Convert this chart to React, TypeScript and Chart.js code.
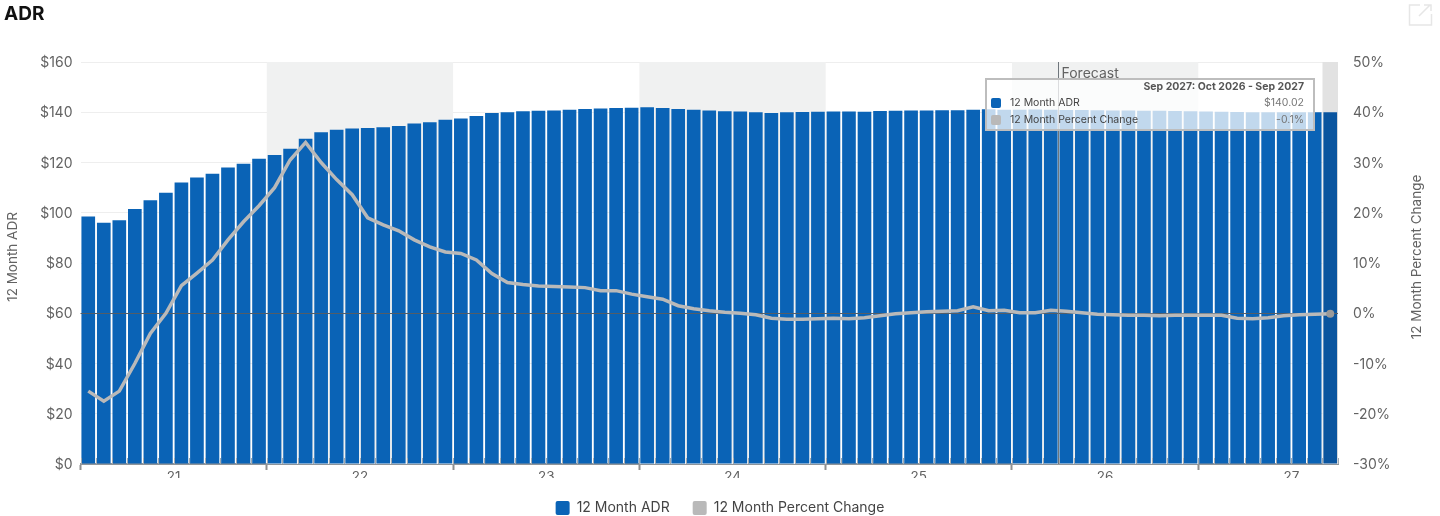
import React, { useEffect, useRef } from "react";
import { Chart, registerables } from "chart.js";

Chart.register(...registerables);

const title = "ADR";
const adrLabel = "12 Month ADR";
const pctLabel = "12 Month Percent Change";
const forecastLabel = "Forecast";
const tooltipTitle = "Sep 2027: Oct 2026 - Sep 2027";
const tooltipAdr = "$140.02";
const tooltipPct = "-0.1%";
const years = ["21", "22", "23", "24", "25", "26", "27"];
const monthsPerYear = 12;
const forecastMonth = 63;
const hoverMonth = 80;
const adrValues = [
  98.5, 96, 97, 101.5, 105, 108, 112, 114, 115.5, 118, 119.5, 121.5,
  123, 125.5, 129.5, 132, 133, 133.5, 133.7, 134, 134.5, 135.5, 136, 137,
  137.5, 138.5, 139.7, 140, 140.4, 140.6, 140.7, 141, 141.3, 141.5, 141.7, 141.8,
  142, 141.7, 141.3, 141, 140.7, 140.4, 140.3, 140, 139.7, 140, 140.1, 140.2,
  140.3, 140.3, 140.2, 140.5, 140.6, 140.7, 140.7, 140.8, 140.8, 141, 141.2, 141,
  141, 141.1, 141, 140.9, 140.9, 140.8, 140.7, 140.7, 140.6, 140.6, 140.5, 140.4,
  140.3, 140.2, 140.1, 140, 140, 140, 140, 140, 140.02,
];
const pctValues = [
  -15.5, -17.5, -15.5, -10, -4, 0, 5.5, 8, 10.6, 14.6, 18.2, 21.4,
  25, 30.5, 34, 30, 26.6, 23.6, 19, 17.6, 16.4, 14.6, 13.2, 12.2,
  11.9, 10.6, 7.9, 6.1, 5.7, 5.4, 5.3, 5.2, 5.1, 4.5, 4.5, 3.8,
  3.3, 2.8, 1.5, 0.9, 0.5, 0.2, 0, -0.3, -1, -1.2, -1.2, -1.1,
  -1, -1.1, -0.9, -0.5, -0.1, 0.1, 0.3, 0.4, 0.5, 1.3, 0.5, 0.6,
  0.1, 0.1, 0.6, 0.4, 0.1, -0.2, -0.3, -0.4, -0.4, -0.5, -0.4, -0.4,
  -0.4, -0.4, -1, -1.1, -0.9, -0.5, -0.3, -0.2, -0.1,
];

const FONT = "Inter";
const TEXT = "#626262";
const BLUE = "#0a63b6";

const overlayPlugin = {
  id: "overlay",
  beforeDatasetsDraw(chart: any) {
    const { ctx, chartArea: a, scales } = chart;
    const x = scales.x;
    ctx.save();
    ctx.fillStyle = "#f0f1f1";
    years.forEach((_, i) => {
      if (i % 2 === 1) {
        const l = x.getPixelForValue(i * monthsPerYear);
        const r = x.getPixelForValue(Math.min((i + 1) * monthsPerYear, adrValues.length));
        ctx.fillRect(l, a.top, r - l, a.bottom - a.top);
      }
    });
    ctx.fillStyle = "#e2e2e2";
    const hl = x.getPixelForValue(hoverMonth);
    ctx.fillRect(hl, a.top, x.getPixelForValue(hoverMonth + 1) - hl, a.bottom - a.top);
    ctx.restore();
  },
  afterDatasetDraw(chart: any, args: any) {
    // zero line of the percent axis: above the bars, below the line
    if (chart.data.datasets[args.index].type !== "bar") return;
    const { ctx, chartArea: a, scales } = chart;
    const z = Math.floor(scales.y2.getPixelForValue(0)) + 0.5;
    ctx.save();
    ctx.strokeStyle = "#535d67";
    ctx.lineWidth = 1;
    ctx.beginPath();
    ctx.moveTo(a.left, z);
    ctx.lineTo(a.right, z);
    ctx.stroke();
    ctx.restore();
  },
  afterDatasetsDraw(chart: any) {
    const { ctx, chartArea: a, scales } = chart;
    const x = scales.x;
    ctx.save();
    // small month ticks
    ctx.strokeStyle = "#a3a9ae";
    ctx.lineWidth = 1;
    for (let i = 0; i <= adrValues.length; i++) {
      const px = Math.round(x.getPixelForValue(i)) + 0.5;
      ctx.beginPath();
      ctx.moveTo(px, a.bottom - 6);
      ctx.lineTo(px, a.bottom);
      ctx.stroke();
    }
    // forecast divider
    const f = Math.floor(x.getPixelForValue(forecastMonth)) + 0.5;
    ctx.strokeStyle = "#6f767c";
    ctx.beginPath();
    ctx.moveTo(f, a.top);
    ctx.lineTo(f, a.bottom);
    ctx.stroke();
    ctx.fillStyle = TEXT;
    ctx.font = `14px ${FONT}`;
    ctx.textAlign = "left";
    ctx.textBaseline = "middle";
    ctx.fillText(forecastLabel, f + 3, a.top + 12);
    // axis titles, both reading bottom to top
    ctx.textAlign = "center";
    ctx.font = `13.5px ${FONT}`;
    const mid = (a.top + a.bottom) / 2 - 6;
    [
      { tx: 13, text: adrLabel },
      { tx: 1417, text: pctLabel },
    ].forEach(({ tx, text }) => {
      ctx.save();
      ctx.translate(tx, mid);
      ctx.rotate(-Math.PI / 2);
      ctx.fillText(text, 0, 0);
      ctx.restore();
    });
    ctx.restore();
  },
};

export default function App() {
  const ref = useRef<HTMLCanvasElement>(null);
  useEffect(() => {
    if (!ref.current) return;
    const chart = new Chart(ref.current, {
      data: {
        datasets: [
          {
            type: "line",
            label: pctLabel,
            yAxisID: "y2",
            order: 0,
            data: pctValues.map((v, i) => ({ x: i + 0.5, y: v })),
            borderColor: "#b9b9b9",
            backgroundColor: "#b9b9b9",
            borderWidth: 3.5,
            tension: 0,
            pointRadius: (c: any) => (c.dataIndex === hoverMonth ? 4 : 0),
            pointBackgroundColor: "#9a9a9a",
            pointBorderWidth: 0,
          },
          {
            type: "bar",
            label: adrLabel,
            yAxisID: "y",
            order: 1,
            data: adrValues.map((v, i) => ({ x: i + 0.5, y: v })),
            backgroundColor: (c: any) => (c.dataIndex === hoverMonth ? "#0a559f" : BLUE),
            borderColor: "#a9c7e6",
            borderWidth: 0,
            borderRadius: 0,
            barPercentage: 0.88,
            categoryPercentage: 1,
          },
        ] as any,
      },
      options: {
        responsive: false,
        animation: false,
        events: [],
        layout: { padding: { top: 62, left: 0, right: 0, bottom: -9 } },
        plugins: {
          tooltip: { enabled: false },
          title: { display: false },
          legend: {
            position: "bottom",
            labels: {
              boxWidth: 14,
              boxHeight: 14,
              padding: 23,
              color: "#444",
              useBorderRadius: true,
              borderRadius: 2,
              font: { family: FONT, size: 14 },
              generateLabels: () =>
                [
                  { text: adrLabel, fillStyle: BLUE, datasetIndex: 1 },
                  { text: pctLabel, fillStyle: "#b9b9b9", datasetIndex: 0 },
                ].map((l) => ({ ...l, strokeStyle: l.fillStyle, lineWidth: 0, borderRadius: 2, fontColor: "#444" })),
            },
          },
        },
        scales: {
          x: {
            type: "linear",
            offset: false,
            min: 0,
            max: adrValues.length,
            afterBuildTicks: (s: any) => {
              s.ticks = Array.from({ length: adrValues.length + 1 }, (_, i) => ({ value: i }));
            },
            afterFit: (s: any) => {
              s.height = 14;
            },
            grid: {
              drawOnChartArea: false,
              drawTicks: true,
              offset: false,
              tickLength: 6,
              tickWidth: 2,
              tickColor: (c: any) =>
                c.tick && c.tick.value % monthsPerYear === 0 ? "#8f8f8f" : "rgba(0,0,0,0)",
            },
            border: { color: "#8f959a", width: 2 },
            ticks: {
              autoSkip: false,
              maxRotation: 0,
              padding: -1,
              color: TEXT,
              font: { family: FONT, size: 13.5 },
              callback: (v: any) =>
                v % monthsPerYear === monthsPerYear / 2 ? years[Math.floor(v / monthsPerYear)] : "",
            },
          },
          y: {
            position: "left",
            min: 0,
            max: 160,
            afterFit: (s: any) => {
              s.width = 80.5;
            },
            grid: { color: "#eeeeee", drawTicks: false },
            border: { display: false },
            ticks: {
              stepSize: 20,
              padding: 8,
              labelOffset: 1,
              color: TEXT,
              font: { family: FONT, size: 14 },
              callback: (v: any) => `$${v}`,
            },
          },
          y2: {
            position: "right",
            min: -30,
            max: 50,
            afterFit: (s: any) => {
              s.width = 102;
            },
            grid: { display: false },
            border: { display: false },
            ticks: {
              stepSize: 10,
              padding: 7,
              labelOffset: 1,
              color: TEXT,
              font: { family: FONT, size: 14 },
              callback: (v: any) => `${v}%`,
            },
          },
        },
      } as any,
      plugins: [overlayPlugin],
    } as any);
    return () => chart.destroy();
  }, []);

  const row = (top: number, color: string, label: string, value: string) => (
    <>
      <div style={{ position: "absolute", left: 4, top, width: 10, height: 10, borderRadius: 2, background: color }} />
      <div style={{ position: "absolute", left: 23, top: top - 2, lineHeight: "14px" }}>{label}</div>
      <div style={{ position: "absolute", right: 9, top: top - 2, lineHeight: "14px", color: "#777" }}>{value}</div>
    </>
  );

  return (
    <div style={{ position: "fixed", left: 0, top: 0, width: 1440, height: 516, background: "#fff", overflow: "hidden", fontFamily: FONT }}>
      <canvas ref={ref} width={1440} height={516} style={{ position: "absolute", left: 0, top: 0, width: 1440, height: 516 }} />
      <div style={{ position: "absolute", left: 4, top: 3, fontSize: 19, lineHeight: "22px", fontWeight: 700, color: "#111" }}>{title}</div>
      <svg style={{ position: "absolute", left: 1408, top: 3 }} width={25} height={23} viewBox="0 0 25 23" fill="none" stroke="#e6e6e6" strokeWidth={1.5}>
        <path d="M12 2H1.5V22H23.5V11" />
        <path d="M11 13L22 2M16 2H23V8" />
      </svg>
      <div style={{ position: "absolute", left: 985, top: 78, width: 330, height: 53, boxSizing: "border-box", background: "rgba(255,255,255,0.75)", border: "2px solid #bdbdbd", fontSize: 10.5, color: "#444" }}>
        <div style={{ position: "absolute", right: 9, top: 0, lineHeight: "14px", fontWeight: 700, color: "#555" }}>{tooltipTitle}</div>
        {row(18, BLUE, adrLabel, tooltipAdr)}
        {row(35, "#b9b9b9", pctLabel, tooltipPct)}
      </div>
    </div>
  );
}
